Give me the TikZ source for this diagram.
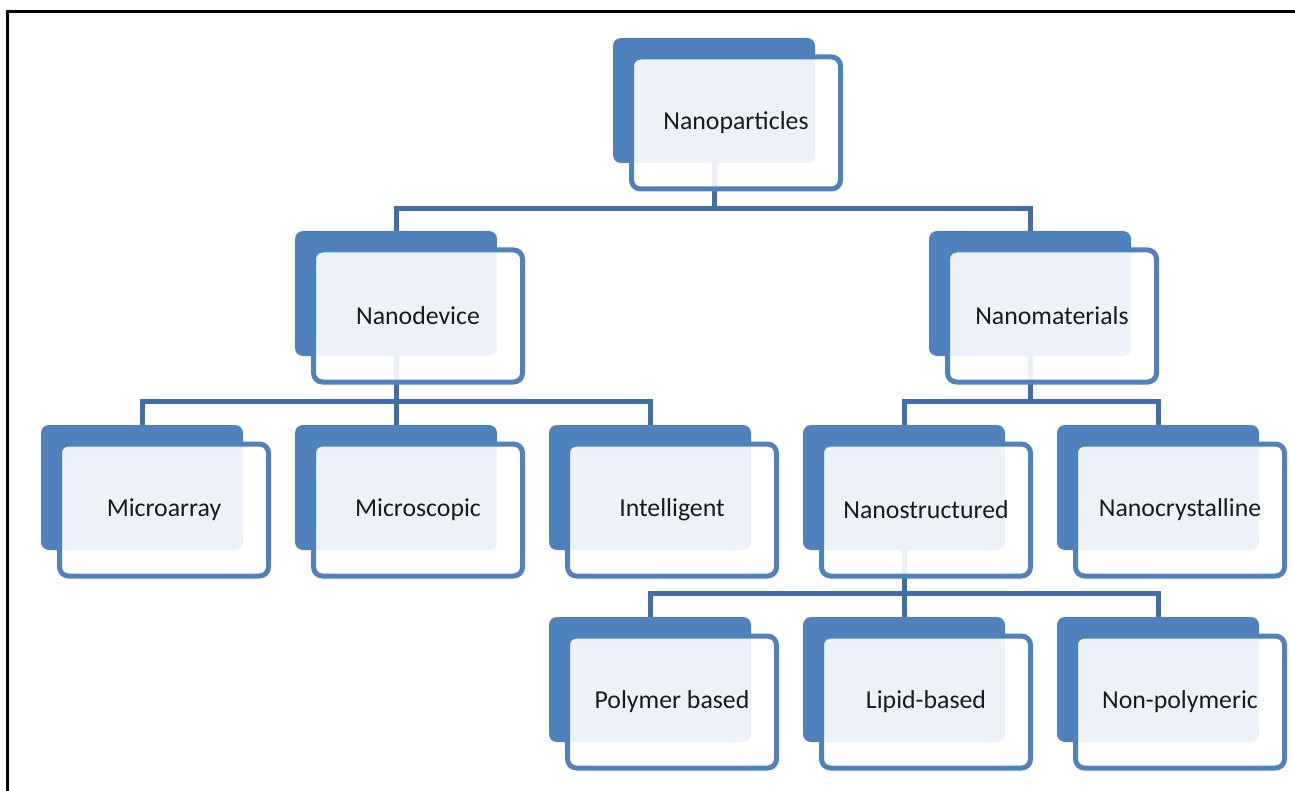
\documentclass[tikz,border=0pt]{standalone}
\usepackage{fontspec}
\setmainfont{Carlito}
\usepackage{tikz}
\usetikzlibrary{backgrounds}
\definecolor{BoxBlue}{HTML}{4F81BD}
\definecolor{LinkBlue}{HTML}{3F6EA8}
\definecolor{TextBlack}{HTML}{1A1A1A}

\begin{document}
\begin{tikzpicture}[x=0.5pt, y=-0.5pt,
    backbox/.style={rectangle, fill=BoxBlue, rounded corners=4pt, minimum width=101pt, minimum height=62.5pt, inner sep=0pt},
    frontbox/.style={rectangle, draw=BoxBlue, line width=2.5pt, fill=white, fill opacity=0.9, text opacity=1, rounded corners=4.5pt, minimum width=104.5pt, minimum height=66pt, inner sep=0pt, text=TextBlack, font=\fontsize{12.9}{15}\selectfont},
    link/.style={draw=LinkBlue, line width=2.5pt}]
      \useasboundingbox (0,0) rectangle (1295,791);

      % Top level
      \node[backbox] (np-b) at (714,100.5) {};
      \node[frontbox] (np) at ([shift={(22,22.5)}]np-b.center) {Nanoparticles};

      % Second level
      \node[backbox] (nd-b) at (396,293.5) {};
      \node[frontbox] (nd) at ([shift={(22,22.5)}]nd-b.center) {Nanodevice};
      \node[backbox] (nm-b) at (1030,293.5) {};
      \node[frontbox] (nm) at ([shift={(22,22.5)}]nm-b.center) {Nanomaterials};

      % Third level
      \node[backbox] (ma-b) at (142,487.5) {};
      \node[frontbox] (ma) at ([shift={(22,22.5)}]ma-b.center) {Microarray};
      \node[backbox] (ms-b) at (396,487.5) {};
      \node[frontbox] (ms) at ([shift={(22,22.5)}]ms-b.center) {Microscopic};
      \node[backbox] (ig-b) at (650,487.5) {};
      \node[frontbox] (ig) at ([shift={(22,22.5)}]ig-b.center) {Intelligent};
      \node[backbox] (ns-b) at (904,487.5) {};
      \node[frontbox] (ns) at ([shift={(22,22.5)}]ns-b.center) {Nanostructured};
      \node[backbox] (nc-b) at (1158,487.5) {};
      \node[frontbox] (nc) at ([shift={(22,22.5)}]nc-b.center) {Nanocrystalline};

      % Fourth level
      \node[backbox] (pb-b) at (650,679.5) {};
      \node[frontbox] (pb) at ([shift={(22,22.5)}]pb-b.center) {Polymer based};
      \node[backbox] (lb-b) at (904,679.5) {};
      \node[frontbox] (lb) at ([shift={(22,22.5)}]lb-b.center) {Lipid-based};
      \node[backbox] (npm-b) at (1158,679.5) {};
      \node[frontbox] (npm) at ([shift={(22,22.5)}]npm-b.center) {Non-polymeric};

      % Connectors and frame
      \begin{scope}[on background layer]
        \fill[white] (0,0) rectangle (1295,791);
        \draw[link] (np-b.south) -- ++(0,45) -| (nd-b.north);
        \draw[link] (np-b.south) -- ++(0,45) -| (nm-b.north);
        \draw[link] (nd-b.south) -- ++(0,45) -| (ma-b.north);
        \draw[link] (nd-b.south) -- ++(0,45) -| (ms-b.north);
        \draw[link] (nd-b.south) -- ++(0,45) -| (ig-b.north);
        \draw[link] (nm-b.south) -- ++(0,45) -| (ns-b.north);
        \draw[link] (nm-b.south) -- ++(0,45) -| (nc-b.north);
        \draw[link] (ns-b.south) -- ++(0,43) -| (pb-b.north);
        \draw[link] (ns-b.south) -- ++(0,43) -| (lb-b.north);
        \draw[link] (ns-b.south) -- ++(0,43) -| (npm-b.north);
      \end{scope}
      \draw[line width=1.5pt] (7.5,791) -- (7.5,12) -- (1295,12);

    \end{tikzpicture}
\end{document}
